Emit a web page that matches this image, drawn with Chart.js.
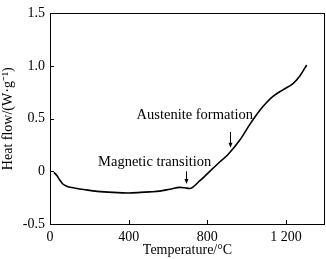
<!DOCTYPE html>
<html>
<head>
<meta charset="utf-8">
<script src="https://cdn.jsdelivr.net/npm/chart.js@4/dist/chart.umd.min.js"></script>
<style>
  html, body { margin: 0; padding: 0; background: #fff; }
  #wrap { width: 326px; height: 259px; }
</style>
</head>
<body>
<div id="wrap"><canvas id="canvas-1"></canvas></div>
<script>
// temperature (°C) and heat flow (W/g)
var temps = [20, 35, 47, 65, 88, 130, 180, 241, 320, 400, 460, 506, 557, 609, 660, 685, 710, 762, 812, 863, 905, 965, 1016, 1067, 1101, 1135, 1184, 1235, 1271, 1305];
var heatFlow = [-0.01, -0.04, -0.075, -0.12, -0.143, -0.16, -0.175, -0.19, -0.2, -0.205, -0.2, -0.195, -0.188, -0.17, -0.152, -0.156, -0.163, -0.089, 0.0, 0.089, 0.16, 0.297, 0.446, 0.58, 0.654, 0.714, 0.774, 0.833, 0.908, 1.01];

var xTicks = [0, 400, 800, 1200];
var yTicks = [-0.5, 0, 0.5, 1.0, 1.5];

var xTitle = 'Temperature/°C';
var yTitle = 'Heat flow/(W·g⁻¹)';

// callouts: text + arrow, placed in data units
var notes = [
    { text: 'Austenite formation', tx: 736, ty: 0.536, ax: 914, ay0: 0.375, ay1: 0.225 },
    { text: 'Magnetic transition', tx: 532, ty: 0.089, ax: 690, ay0: 0.0, ay1: -0.12 }
];

var FONT = '"Liberation Serif", "Times New Roman", serif';

var points = [];
for (var i = 0; i < temps.length; i++) {
    points.push({ x: temps[i], y: heatFlow[i] });
}

// frame, inward tick marks and callouts
var extras = {
    id: 'extras',
    afterDraw: function (chart) {
        var ctx = chart.ctx;
        var a = chart.chartArea;
        var xs = chart.scales.x, ys = chart.scales.y;
        ctx.save();
        ctx.strokeStyle = '#000';
        ctx.lineWidth = 1;
        ctx.strokeRect(Math.round(a.left) + 0.5, Math.round(a.top) + 0.5,
            Math.round(a.right - a.left) - 1, Math.round(a.bottom - a.top));
        ctx.beginPath();
        xTicks.forEach(function (v) {
            var px = Math.round(xs.getPixelForValue(v)) + 0.5;
            ctx.moveTo(px, a.bottom);
            ctx.lineTo(px, a.bottom - 4);
        });
        yTicks.forEach(function (v) {
            var py = Math.round(ys.getPixelForValue(v)) + 0.5;
            ctx.moveTo(a.left, py);
            ctx.lineTo(a.left + 4, py);
        });
        ctx.stroke();

        ctx.fillStyle = '#000';
        ctx.font = '14.5px ' + FONT;
        ctx.textAlign = 'center';
        ctx.textBaseline = 'middle';
        notes.forEach(function (n) {
            ctx.fillText(n.text, xs.getPixelForValue(n.tx), ys.getPixelForValue(n.ty));
            var px = Math.round(xs.getPixelForValue(n.ax)) + 0.5;
            var y0 = ys.getPixelForValue(n.ay0), y1 = ys.getPixelForValue(n.ay1);
            ctx.beginPath();
            ctx.moveTo(px, y0);
            ctx.lineTo(px, y1 - 3);
            ctx.stroke();
            ctx.beginPath();
            ctx.moveTo(px - 2, y1 - 5);
            ctx.lineTo(px, y1);
            ctx.lineTo(px + 2, y1 - 5);
            ctx.closePath();
            ctx.fill();
        });
        ctx.restore();
    }
};

var ctx = document.getElementById('canvas-1');
var chart = new Chart(ctx, {
    type: 'scatter',
    data: {
        datasets: [{
            data: points,
            showLine: true,
            borderColor: '#000',
            borderWidth: 1.6,
            pointRadius: 0,
            cubicInterpolationMode: 'monotone',
            fill: false
        }]
    },
    options: {
        responsive: true,
        maintainAspectRatio: false,
        animation: false,
        layout: { padding: { top: 3, right: 1, left: 0, bottom: 0 } },
        plugins: { legend: { display: false }, tooltip: { enabled: false } },
        scales: {
            x: {
                type: 'linear',
                min: 0,
                max: 1398,
                afterBuildTicks: function (s) { s.ticks = xTicks.map(function (v) { return { value: v }; }); },
                afterFit: function (s) { s.height = 35; },
                grid: { display: false, drawTicks: false },
                border: { display: false },
                ticks: {
                    color: '#000',
                    padding: 5,
                    maxRotation: 0,
                    font: { family: FONT, size: 14 },
                    callback: function (v) { return v >= 1000 ? '1 200' : String(v); }
                },
                title: {
                    display: true,
                    text: xTitle,
                    color: '#000',
                    padding: 0,
                    font: { family: FONT, size: 14 }
                }
            },
            y: {
                min: -0.5,
                max: 1.5,
                afterBuildTicks: function (s) { s.ticks = yTicks.map(function (v) { return { value: v }; }); },
                afterFit: function (s) { s.width = 50; },
                grid: { display: false, drawTicks: false },
                border: { display: false },
                ticks: {
                    color: '#000',
                    padding: 5,
                    font: { family: FONT, size: 14 },
                    callback: function (v) { return v === 0 ? '0' : (v < 0 ? '-' + Math.abs(v).toFixed(1) : v.toFixed(1)); }
                },
                title: {
                    display: true,
                    text: yTitle,
                    color: '#000',
                    padding: 0,
                    font: { family: FONT, size: 14 }
                }
            }
        }
    },
    plugins: [extras]
});
</script>
</body>
</html>
